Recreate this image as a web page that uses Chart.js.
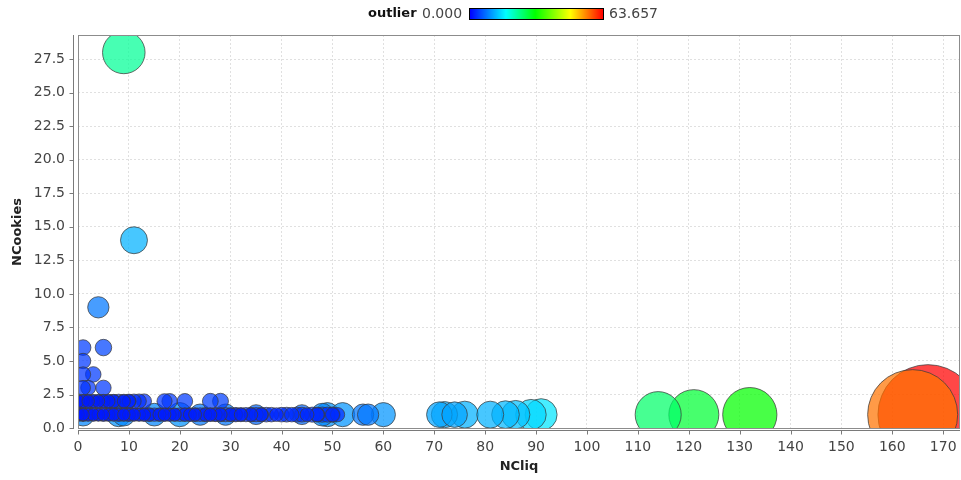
<!DOCTYPE html>
<html>
<head>
<meta charset="utf-8">
<script src="https://cdn.jsdelivr.net/npm/chart.js@4/dist/chart.umd.min.js"></script>
<style>
  html, body { margin: 0; padding: 0; background: #fff; }
  #wrap { position: relative; width: 961px; height: 480px; }
  #c { position: absolute; left: 0; top: 0; }
  .lg { position: absolute; top: 5px; font-family: 'DejaVu Sans', sans-serif; line-height: 16px; color: #444; white-space: nowrap; }
  #lgName { left: 368px; font-weight: bold; font-size: 13px; color: #111; }
  #lgMin { left: 422px; font-size: 14px; }
  #lgMax { left: 609px; font-size: 14px; }
  #lgBar { position: absolute; left: 469px; top: 8px; width: 133px; height: 10px; border: 1px solid #000; }
</style>
</head>
<body>
<div id="wrap">
  <canvas id="c" width="961" height="480"></canvas>
  <span class="lg" id="lgName">outlier</span>
  <span class="lg" id="lgMin"></span>
  <div id="lgBar"></div>
  <span class="lg" id="lgMax"></span>
</div>
<script>
// Each record: number of clicks, number of cookies, outlier score
const nCliq = [
  0, 1, 1, 2, 3, 4, 5, 6, 7, 8, 9, 10, 11, 12, 13, 14, 15, 16, 17, 18, 19, 20,
  21, 22, 23, 24, 25, 26, 27, 28, 29, 30, 31, 32, 33, 34, 35, 36, 37, 38, 40, 41,
  42, 43, 44, 46, 47, 48, 49, 50,
  0, 1, 2, 3, 4, 5, 6, 7, 8, 9, 10, 11, 12, 13, 14, 16, 17, 18, 19, 21, 22, 23,
  25, 26, 27, 28, 30, 31, 32, 34, 36, 39, 45, 47, 50, 51,
  1, 8, 9, 15, 20, 24, 29, 35, 44, 48, 49, 52, 56, 57, 60,
  71, 72, 74, 76, 81, 84, 86, 89, 91,
  0, 1, 2, 3, 4, 5, 6, 7, 8, 9, 10, 11, 12, 13, 17, 18, 21, 26, 28,
  0, 1, 2, 3, 4, 5, 6, 7, 9, 10,
  1, 2, 5, 1, 3, 1, 1, 5, 4, 11, 9,
  114, 121, 132, 164, 167
];
const nCookies = [
  1, 1, 1, 1, 1, 1, 1, 1, 1, 1, 1, 1, 1, 1, 1, 1, 1, 1, 1, 1, 1, 1,
  1, 1, 1, 1, 1, 1, 1, 1, 1, 1, 1, 1, 1, 1, 1, 1, 1, 1, 1, 1,
  1, 1, 1, 1, 1, 1, 1, 1,
  1, 1, 1, 1, 1, 1, 1, 1, 1, 1, 1, 1, 1, 1, 1, 1, 1, 1, 1, 1, 1, 1,
  1, 1, 1, 1, 1, 1, 1, 1, 1, 1, 1, 1, 1, 1,
  1, 1, 1, 1, 1, 1, 1, 1, 1, 1, 1, 1, 1, 1, 1,
  1, 1, 1, 1, 1, 1, 1, 1, 1,
  2, 2, 2, 2, 2, 2, 2, 2, 2, 2, 2, 2, 2, 2, 2, 2, 2, 2, 2,
  2, 2, 2, 2, 2, 2, 2, 2, 2, 2,
  3, 3, 3, 4, 4, 5, 6, 6, 9, 14, 28,
  1, 1, 1, 1, 1
];
const outlier = [
  2.5, 2.0, 2.5, 2.2, 2.4, 2.1, 2.6, 2.3, 2.2, 2.5, 2.4, 2.6, 2.3, 2.2, 2.5, 2.7, 2.4, 2.5, 2.6, 2.3, 2.4, 2.6,
  2.5, 2.7, 2.8, 2.6, 2.9, 2.7, 2.8, 2.9, 3.0, 2.8, 3.1, 2.9, 3.0, 3.2, 3.0, 3.1, 3.3, 3.2, 3.3, 3.4,
  3.2, 3.5, 3.4, 3.6, 3.5, 3.7, 3.6, 3.8,
  1.8, 1.6, 1.9, 1.7, 1.8, 1.6, 1.9, 1.8, 2.0, 1.7, 1.9, 1.8, 2.0, 1.9, 2.1, 2.0, 1.9, 2.1, 2.0, 2.2, 2.1, 2.0,
  2.2, 2.1, 2.3, 2.2, 2.3, 2.4, 2.2, 2.4, 2.5, 2.6, 2.7, 2.8, 2.9, 3.0,
  9, 10, 9, 9, 10, 8, 8, 7, 7, 9, 10, 10, 8, 8, 10,
  11, 11.5, 11, 12, 12, 12.5, 13, 14.5, 15.5,
  2.5, 2.4, 2.6, 2.5, 2.7, 2.6, 2.8, 2.7, 2.9, 2.8, 3.0, 3.1, 3.2, 3.3, 3.6, 3.8, 3.9, 4.1, 4.2,
  1.8, 1.9, 1.7, 2.0, 1.9, 2.1, 2.0, 2.2, 2.1, 2.3,
  3.4, 3.5, 3.8, 3.6, 3.9, 3.8, 4.0, 4.6, 8, 12, 23,
  25.5, 28.3, 31.3, 56.6, 63.657
];
// Colour bar range shown in the legend
const outlierRange = [0.000, 63.657];

// Colour ramp used for the outlier score (blue -> cyan -> green -> yellow -> red)
const ramp = [
  [0.000, [0, 0, 255]],
  [0.270, [0, 255, 255]],
  [0.490, [0, 255, 0]],
  [0.755, [255, 255, 0]],
  [1.000, [255, 0, 0]]
];
function rampColour(v, alpha) {
  let t = (v - outlierRange[0]) / (outlierRange[1] - outlierRange[0]);
  t = Math.max(0, Math.min(1, t));
  let c = ramp[ramp.length - 1][1];
  for (let i = 1; i < ramp.length; i++) {
    if (t <= ramp[i][0]) {
      const [t0, c0] = ramp[i - 1];
      const [t1, c1] = ramp[i];
      const f = (t - t0) / (t1 - t0);
      c = c0.map((k, j) => Math.round(k + (c1[j] - k) * f));
      break;
    }
  }
  return `rgba(${c[0]},${c[1]},${c[2]},${alpha})`;
}
// Bubble radius (px) grows with the outlier score
function radiusFor(v) { return 5 + 0.707 * v; }

document.getElementById('lgMin').textContent = outlierRange[0].toFixed(3);
document.getElementById('lgMax').textContent = outlierRange[1].toFixed(3);
document.getElementById('lgBar').style.background =
  'linear-gradient(to right, ' + ramp.map(([t, c]) => `rgb(${c.join(',')}) ${t * 100}%`).join(', ') + ')';

// Largest scores are painted first so the small ones stay visible on top
const order = outlier.map((_, i) => i).sort((a, b) => outlier[b] - outlier[a]);
const points = order.map(i => ({ x: nCliq[i], y: nCookies[i], r: radiusFor(outlier[i]) }));
const fills = order.map(i => rampColour(outlier[i], 0.72));

// Plot frame plus offset axis lines with outward tick marks
const frame = {
  id: 'frame',
  afterDraw(chart) {
    const { ctx, chartArea: a, scales: { x, y } } = chart;
    ctx.save();
    ctx.lineWidth = 1;
    ctx.strokeStyle = '#8c8c8c';
    ctx.strokeRect(a.left + 0.5, a.top + 0.5, a.right - a.left - 1, a.bottom - a.top - 1);

    ctx.strokeStyle = '#7a7a7a';
    ctx.beginPath();
    const ax = a.left - 4.5;
    ctx.moveTo(ax, a.top); ctx.lineTo(ax, a.bottom);
    y.ticks.forEach(t => {
      const py = Math.round(y.getPixelForValue(t.value)) + 0.5;
      ctx.moveTo(ax - 4, py); ctx.lineTo(ax, py);
    });
    const ay = a.bottom + 1.5;
    ctx.moveTo(a.left, ay); ctx.lineTo(a.right, ay);
    x.ticks.forEach(t => {
      const px = Math.round(x.getPixelForValue(t.value)) + 0.5;
      ctx.moveTo(px, ay); ctx.lineTo(px, ay + 4);
    });
    ctx.stroke();
    ctx.restore();
  }
};

Chart.defaults.font.family = "'DejaVu Sans', sans-serif";

new Chart(document.getElementById('c'), {
  type: 'bubble',
  data: {
    datasets: [{
      data: points,
      backgroundColor: fills,
      borderColor: 'rgba(60,60,60,0.75)',
      borderWidth: 1,
      clip: 0
    }]
  },
  options: {
    responsive: false,
    animation: false,
    devicePixelRatio: 1,
    events: [],
    layout: { autoPadding: false, padding: { top: 35, right: 1, left: 0, bottom: 0 } },
    plugins: { legend: { display: false }, tooltip: { enabled: false } },
    scales: {
      x: {
        type: 'linear', min: 0, max: 173.3,
        ticks: {
          stepSize: 10, includeBounds: false, padding: 10, maxRotation: 0, autoSkip: false,
          color: '#444', font: { size: 14 },
          callback: v => String(v)
        },
        grid: { color: '#e0e0e0', drawTicks: false },
        border: { display: false, dash: [2, 2] },
        title: { display: true, text: 'NCliq', color: '#222', font: { size: 13, weight: 'bold' }, padding: { top: 0, bottom: 6 } },
        afterFit(s) { s.height = 51; s.paddingLeft = 0; s.paddingRight = 0; }
      },
      y: {
        type: 'linear', min: -0.07, max: 29.3,
        ticks: {
          stepSize: 2.5, includeBounds: false, padding: 13,
          color: '#444', font: { size: 14 },
          callback: v => Number(v).toFixed(1)
        },
        grid: { color: '#e0e0e0', drawTicks: false },
        border: { display: false, dash: [2, 2] },
        title: { display: true, text: 'NCookies', color: '#222', font: { size: 13, weight: 'bold' }, padding: { top: 10, bottom: 0 } },
        afterFit(s) { s.width = 78; s.paddingTop = 0; s.paddingBottom = 0; }
      }
    }
  },
  plugins: [frame]
});
</script>
</body>
</html>
